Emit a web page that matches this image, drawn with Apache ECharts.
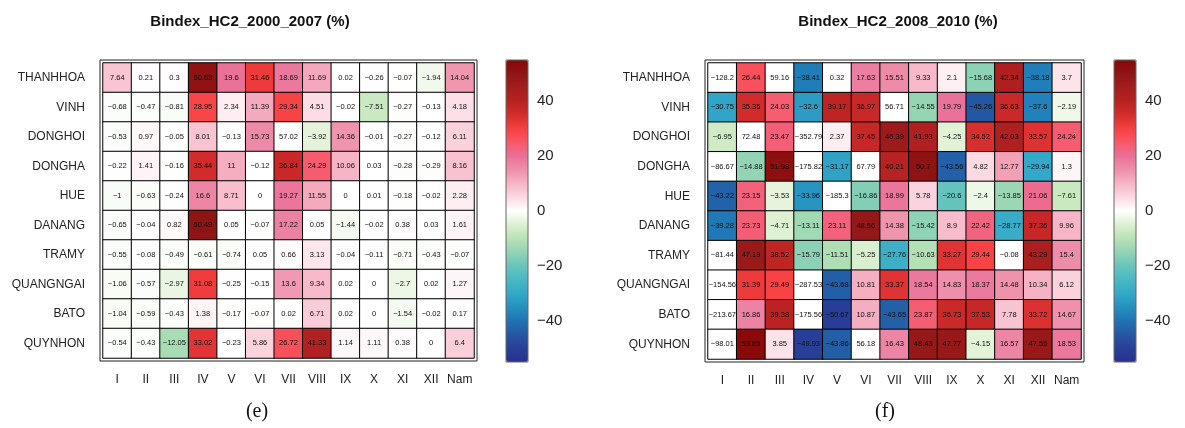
<!DOCTYPE html>
<html><head><meta charset="utf-8">
<script src="https://cdn.jsdelivr.net/npm/echarts@6/dist/echarts.min.js"></script>
<style>html,body{margin:0;padding:0;background:#fff}#c{width:1185px;height:428px}</style>
</head><body><div id="c"></div>
<script>
const months = ['I','II','III','IV','V','VI','VII','VIII','IX','X','XI','XII','Nam'];
const stations = ['THANHHOA','VINH','DONGHOI','DONGHA','HUE','DANANG','TRAMY','QUANGNGAI','BATO','QUYNHON'];

const bindex2000_2007 = [
  [7.64, 0.21, 0.3, 50.63, 19.6, 31.46, 18.69, 11.69, 0.02, -0.26, -0.07, -1.94, 14.04],
  [-0.68, -0.47, -0.81, 28.95, 2.34, 11.39, 29.34, 4.51, -0.02, -7.51, -0.27, -0.13, 4.18],
  [-0.53, 0.97, -0.05, 8.01, -0.13, 15.73, 57.02, -3.92, 14.36, -0.01, -0.27, -0.12, 6.11],
  [-0.22, 1.41, -0.16, 35.44, 11, -0.12, 36.84, 24.29, 10.06, 0.03, -0.28, -0.29, 8.16],
  [-1, -0.63, -0.24, 16.6, 8.71, 0, 19.27, 11.55, 0, 0.01, -0.18, -0.02, 2.28],
  [-0.65, -0.04, 0.82, 50.49, 0.05, -0.07, 17.22, 0.05, -1.44, -0.02, 0.38, 0.03, 1.61],
  [-0.55, -0.08, -0.49, -0.61, -0.74, 0.05, 0.66, 3.13, -0.04, -0.11, -0.71, -0.43, -0.07],
  [-1.06, -0.57, -2.97, 31.08, -0.25, -0.15, 13.6, 9.34, 0.02, 0, -2.7, 0.02, 1.27],
  [-1.04, -0.59, -0.43, 1.38, -0.17, -0.07, 0.02, 6.71, 0.02, 0, -1.54, -0.02, 0.17],
  [-0.54, -0.43, -12.05, 33.02, -0.23, 5.86, 26.72, 41.33, 1.14, 1.11, 0.38, 0, 6.4]
];
const bindex2008_2010 = [
  [-128.2, 26.44, 59.16, -38.41, 0.32, 17.63, 15.51, 9.33, 2.1, -15.68, 42.34, -38.18, 3.7],
  [-30.75, 35.35, 24.03, -32.6, 39.17, 36.97, 56.71, -14.55, 19.79, -45.26, 36.63, -37.6, -2.19],
  [-6.95, 72.48, 23.47, -352.79, 2.37, 37.45, 46.39, 41.93, -4.25, 34.52, 42.03, 33.57, 24.24],
  [-86.67, -14.88, 51.98, -175.82, -31.17, 67.79, 40.21, 50.7, -43.56, 4.82, 12.77, -29.94, 1.3],
  [-43.22, 23.15, -3.53, -33.96, -185.3, -16.86, 18.99, 5.78, -20.6, -2.4, -13.85, 21.06, -7.61],
  [-39.28, 23.73, -4.71, -13.11, 23.11, 48.56, 14.38, -15.42, 8.9, 22.42, -28.77, 37.36, 9.96],
  [-81.44, 47.19, 38.52, -15.79, -11.51, -5.25, -27.76, -10.63, 33.27, 29.44, -0.08, 43.29, 15.4],
  [-154.56, 31.39, 29.49, -287.53, -43.68, 10.81, 33.37, 18.54, 14.83, 18.37, 14.48, 10.34, 6.12],
  [-213.67, 16.86, 39.38, -175.56, -50.67, 10.87, -43.65, 23.87, 36.73, 37.53, 7.78, 33.72, 14.67],
  [-98.01, 53.85, 3.85, -49.93, -43.86, 56.18, 16.43, 48.43, 47.77, -4.15, 16.57, 47.55, 18.53]
];
const colorbarTicks = [-40, -20, 0, 20, 40];
const colorMin = -55, colorMax = 55;
const palette = ['#2B2F8E','#283F98','#2458A2','#1F74B4','#2490C0','#34A8C8','#48B8C4','#68C4BC','#92D4B4','#B8E2B4','#DCF0D0','#FFFFFF','#FCD9E2','#F7B4C6','#EE8FAA','#EA7098','#F85868','#F84040','#D42C2C','#B82222','#A21E1E','#901515','#880606'];

const FONT = '"Liberation Sans", Arial, Helvetica, sans-serif';
const minus = v => String(v).replace('-', '\u2212');

// values outside the colour scale are drawn white (mapped to the scale's neutral 0)
function toCells(mat) {
  const out = [];
  mat.forEach((row, r) => row.forEach((v, c) => {
    const cv = (v < colorMin || v > colorMax) ? 0 : v;
    out.push([c, r, v, cv]);
  }));
  return out;
}

const panels = [
  {title: 'Bindex_HC2_2000_2007 (%)', caption: '(e)', data: bindex2000_2007,
   cell: {left: 103, top: 63, width: 371, height: 295},
   frame: {left: 100, top: 60, width: 377, height: 301},
   bar: {left: 506, top: 60, width: 22, height: 302},
   titleX: 245, capX: 252},
  {title: 'Bindex_HC2_2008_2010 (%)', caption: '(f)', data: bindex2008_2010,
   cell: {left: 708, top: 63, width: 373, height: 296},
   frame: {left: 705, top: 60, width: 379, height: 302},
   bar: {left: 1114, top: 60, width: 22, height: 302},
   titleX: 893, capX: 880}
];

const grid = [], xAxis = [], yAxis = [], series = [], visualMap = [], title = [];
const tickStyle = {lineStyle: {color: '#333', width: 1}};
panels.forEach((p, i) => {
  const g0 = grid.length;
  grid.push(Object.assign({containLabel: false}, p.cell));
  grid.push(Object.assign({show: true, borderColor: '#222', borderWidth: 1, z: 5}, p.frame));
  grid.push(Object.assign({show: true, borderColor: '#666', borderWidth: 1, z: 10}, p.bar));
  const x0 = xAxis.length, y0 = yAxis.length;
  xAxis.push({type: 'category', gridIndex: g0, data: months, position: 'bottom',
    axisLine: {show: false}, axisTick: Object.assign({alignWithLabel: true, length: 10}, tickStyle),
    axisLabel: {color: '#222', fontSize: 12, fontFamily: FONT, margin: 16, interval: 0}, splitLine: {show: false}});
  xAxis.push({type: 'category', gridIndex: g0, data: months, position: 'top',
    axisLine: {show: false}, axisTick: Object.assign({alignWithLabel: true, length: 10}, tickStyle),
    axisLabel: {show: false}, splitLine: {show: false}});
  yAxis.push({type: 'category', gridIndex: g0, data: stations, inverse: true, position: 'left',
    axisLine: {show: false}, axisTick: Object.assign({alignWithLabel: true, length: 10}, tickStyle),
    axisLabel: {color: '#222', fontSize: 12, fontFamily: FONT, margin: 18, interval: 0}, splitLine: {show: false}});
  yAxis.push({type: 'category', gridIndex: g0, data: stations, inverse: true, position: 'right',
    axisLine: {show: false}, axisTick: Object.assign({alignWithLabel: true, length: 10}, tickStyle),
    axisLabel: {show: false}, splitLine: {show: false}});
  xAxis.push({type: 'value', gridIndex: g0 + 1, show: false});
  yAxis.push({type: 'value', gridIndex: g0 + 1, show: false});
  xAxis.push({type: 'value', gridIndex: g0 + 2, show: false});
  yAxis.push({type: 'value', gridIndex: g0 + 2, min: colorMin, max: colorMax, position: 'right',
    axisLine: {show: false}, splitLine: {show: false},
    axisTick: {show: true, length: 5, customValues: colorbarTicks, lineStyle: {color: '#333'}},
    axisLabel: {customValues: colorbarTicks, formatter: v => minus(v), color: '#222', fontSize: 15, fontFamily: FONT, margin: 9}});

  series.push({type: 'heatmap', xAxisIndex: x0, yAxisIndex: y0, data: toCells(p.data),
    encode: {x: 0, y: 1, value: 3},
    itemStyle: {borderColor: '#000', borderWidth: 1},
    label: {show: true, fontSize: 7.5, fontFamily: FONT, color: '#111', formatter: d => minus(d.value[2])},
    emphasis: {disabled: true}});
  visualMap.push({type: 'continuous', seriesIndex: i, dimension: 3, min: colorMin, max: colorMax,
    calculable: false, realtime: false, hoverLink: false, text: null, showLabel: false,
    left: p.bar.left, top: p.bar.top, itemWidth: p.bar.width, itemHeight: p.bar.height, padding: 0,
    inRange: {color: palette}, outOfRange: {color: '#ffffff'}});
  title.push({text: p.title, left: p.titleX, top: 9, textAlign: 'center',
    textStyle: {fontSize: 15, fontWeight: 'bold', fontFamily: FONT, color: '#111'}});
  title.push({text: p.caption, left: p.capX, top: 397, textAlign: 'center',
    textStyle: {fontSize: 20, fontWeight: 'normal', fontFamily: '"Liberation Serif", "Times New Roman", serif', color: '#111'}});
});

const chart = echarts.init(document.getElementById('c'), null, {renderer: 'canvas'});
chart.setOption({backgroundColor: '#fff', animation: false, title, grid, xAxis, yAxis, series, visualMap});
</script></body></html>
